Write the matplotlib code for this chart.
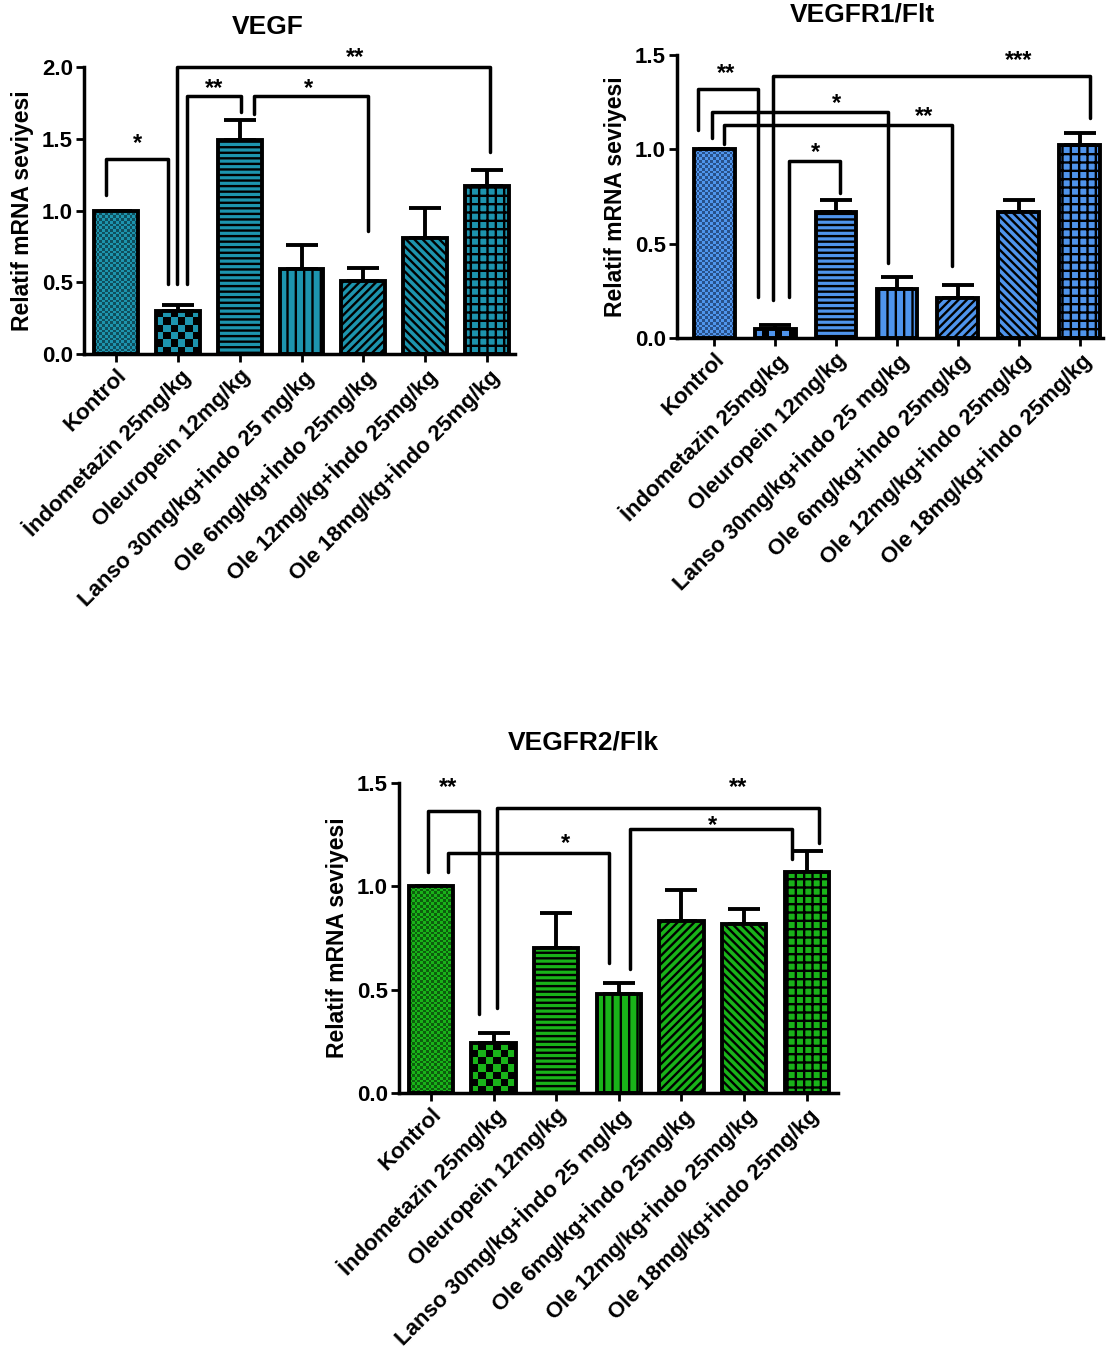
import numpy as np
import matplotlib
matplotlib.use("Agg")
import matplotlib.pyplot as plt
from matplotlib.colors import ListedColormap

plt.rcParams['font.family'] = ['Liberation Sans', 'DejaVu Sans']
plt.rcParams['font.weight'] = 'bold'
plt.rcParams['hatch.linewidth'] = 1.7

groups = ["Kontrol", "İndometazin 25mg/kg", "Oleuropein 12mg/kg",
          "Lanso 30mg/kg+İndo 25 mg/kg", "Ole 6mg/kg+İndo 25mg/kg",
          "Ole 12mg/kg+İndo 25mg/kg", "Ole 18mg/kg+İndo 25mg/kg"]

# ortalama ve SEM
vegf_mean = [1.0, 0.30, 1.49, 0.59, 0.51, 0.81, 1.17]
vegf_sem = [0.0, 0.04, 0.14, 0.17, 0.09, 0.21, 0.11]
flt_mean = [1.0, 0.05, 0.67, 0.26, 0.21, 0.67, 1.02]
flt_sem = [0.0, 0.018, 0.06, 0.065, 0.07, 0.06, 0.065]
flk_mean = [1.0, 0.24, 0.70, 0.48, 0.83, 0.82, 1.07]
flk_sem = [0.0, 0.05, 0.17, 0.05, 0.15, 0.07, 0.10]

# anlamlilik cizgileri: x1, y1 alt, x2, y2 alt, ust, yildiz, yildiz x, yildiz y
vegf_sig = [(-0.16, 1.11, 0.84, 0.49, 1.36, "*", 0.34, 1.47),
            (0.99, 0.49, 6.05, 1.41, 2.0, "**", 3.87, 2.07),
            (1.15, 0.49, 2.02, 1.69, 1.80, "**", 1.59, 1.85),
            (2.23, 1.675, 4.08, 0.86, 1.80, "*", 3.11, 1.85)]
flt_sig = [(-0.26, 1.10, 0.72, 0.22, 1.32, "**", 0.2, 1.40),
           (0.97, 0.20, 6.17, 1.165, 1.39, "***", 5.0, 1.47),
           (-0.03, 1.06, 2.85, 0.40, 1.195, "*", 2.0, 1.24),
           (0.16, 1.03, 3.91, 0.38, 1.13, "**", 3.44, 1.175),
           (1.23, 0.22, 2.06, 0.77, 0.94, "*", 1.66, 0.985)]
flk_sig = [(-0.05, 1.07, 0.77, 0.38, 1.365, "**", 0.27, 1.48),
           (1.05, 0.41, 6.2, 1.21, 1.38, "**", 4.9, 1.48),
           (0.27, 1.07, 2.84, 0.63, 1.163, "*", 2.14, 1.205),
           (3.18, 0.60, 5.77, 1.13, 1.275, "*", 4.5, 1.295)]

hatches = [None, None, '---', '||', '////', '\\\\\\\\', '++']
checker_px = {0: 2.7, 1: 7.0}

fig = plt.figure(figsize=(11.1, 13.72), dpi=100)


def checker(ax, rect, cell, colors):
    x0, y0 = rect.get_x(), rect.get_y()
    w, h = rect.get_width(), rect.get_height()
    p0 = ax.transData.transform((x0, y0))
    p1 = ax.transData.transform((x0 + w, y0 + h))
    nx = max(1, int(round((p1[0] - p0[0]) / cell)))
    ny = max(1, int(round((p1[1] - p0[1]) / cell)))
    grid = np.add.outer(np.arange(ny), np.arange(nx)) % 2
    im = ax.imshow(grid, cmap=ListedColormap(colors), extent=(x0, x0 + w, y0, y0 + h),
                   aspect='auto', interpolation='nearest', origin='lower', zorder=1.5)
    im.set_clip_path(rect)


def panel(pos, title, title_x, mean, sem, sig, color, dark, ymax, xlim, width):
    ax = fig.add_axes(pos)
    x = np.arange(len(mean))
    ax.set_xlim(*xlim)
    ax.set_ylim(0, ymax)
    bars = ax.bar(x, mean, width=width, color=color, edgecolor='black', linewidth=2.8, zorder=2)
    for i, b in enumerate(bars):
        if hatches[i]:
            b.set_hatch(hatches[i])
        else:
            b.set_facecolor('none')
    checker(ax, bars[0], checker_px[0], [color, dark])
    checker(ax, bars[1], checker_px[1], [color, 'black'])
    ax.errorbar(x, mean, yerr=[np.zeros(len(sem)), sem], fmt='none', ecolor='black',
                elinewidth=2.8, capsize=11.5, capthick=2.8, zorder=1)
    ax.set_xlim(*xlim)
    ax.set_ylim(0, ymax)

    for x1, y1, x2, y2, top, lab, sx, sy in sig:
        ax.plot([x1, x1, x2, x2], [y1, top, top, y2], color='black', lw=2.5,
                solid_capstyle='round', solid_joinstyle='round', clip_on=False, zorder=3)
        ax.text(sx, sy, lab, ha='center', va='center', fontsize=17, fontweight='bold', clip_on=False)

    ax.spines['top'].set_visible(False)
    ax.spines['right'].set_visible(False)
    ax.spines['left'].set_linewidth(2.5)
    ax.spines['bottom'].set_linewidth(2.5)
    ax.set_yticks(np.arange(0, ymax + 0.01, 0.5))
    ax.set_yticklabels([f"{v:.1f}" for v in np.arange(0, ymax + 0.01, 0.5)])
    ax.tick_params(axis='both', direction='out', length=6, width=2, labelsize=16, pad=2)
    ax.set_xticks(x)
    ax.set_xticklabels(groups, rotation=45, ha='right', va='top', rotation_mode='anchor')
    ax.set_ylabel("Relatif mRNA seviyesi", fontsize=16.5, fontweight='bold', labelpad=6)
    ax.set_title(title, fontsize=19, fontweight='bold', pad=24, x=title_x)
    return ax


panel([0.0757, 0.742, 0.388, 0.209], "VEGF", 0.427, vegf_mean, vegf_sem, vegf_sig,
      '#1d94ae', '#0f4f5e', 2.0, (-0.52, 6.45), 0.71)
panel([0.61, 0.7536, 0.384, 0.2064], "VEGFR1/Flt", 0.434, flt_mean, flt_sem, flt_sig,
      '#4f94ec', '#28508a', 1.5, (-0.61, 6.39), 0.67)
panel([0.3595, 0.2034, 0.3955, 0.2259], "VEGFR2/Flk", 0.421, flk_mean, flk_sem, flk_sig,
      '#19b319', '#0d5f0d', 1.5, (-0.51, 6.5), 0.71)

fig.savefig("out.png", dpi=100)
